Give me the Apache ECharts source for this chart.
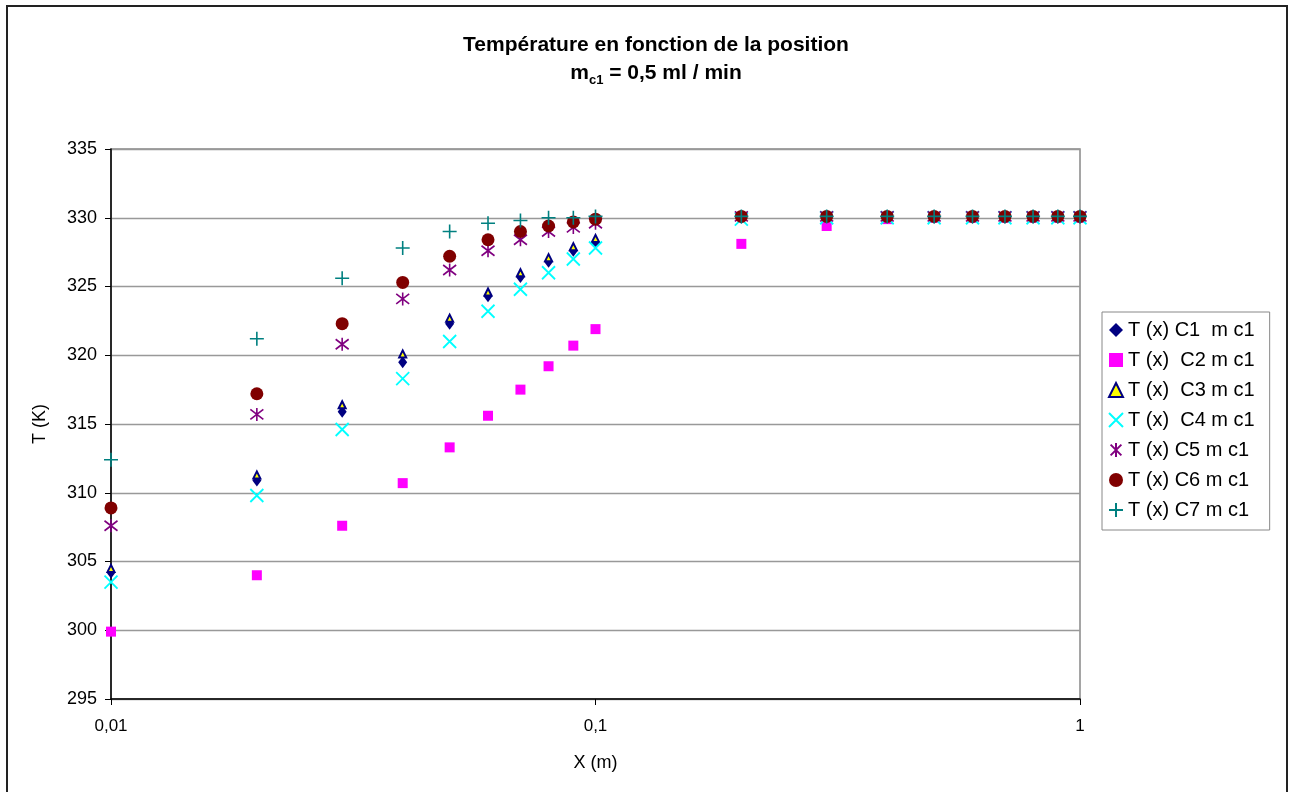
<!DOCTYPE html>
<html>
<head>
<meta charset="utf-8">
<script src="https://cdn.jsdelivr.net/npm/echarts@6/dist/echarts.min.js"></script>
<style>
  html, body { margin: 0; padding: 0; background: #fff; }
  #chart { width: 1292px; height: 792px; }
</style>
</head>
<body>
<div id="chart"></div>
<script>
// Positions along the tube (m)
const positions = [0.01, 0.02, 0.03, 0.04, 0.05, 0.06, 0.07, 0.08, 0.09, 0.1,
                   0.2, 0.3, 0.4, 0.5, 0.6, 0.7, 0.8, 0.9, 1];

// Temperatures (K) measured for each thermocouple
const tempC1 = [304.2, 310.9, 315.9, 319.5, 322.3, 324.3, 325.7, 326.8, 327.6, 328.2,
                330.0, 330.0, 330.0, 330.0, 330.0, 330.0, 330.0, 330.0, 330.0];
const tempC2 = [299.9, 304.0, 307.6, 310.7, 313.3, 315.6, 317.5, 319.2, 320.7, 321.9,
                328.1, 329.4, 329.9, 330.0, 330.0, 330.0, 330.0, 330.0, 330.0];
const tempC3 = [304.5, 311.3, 316.4, 320.1, 322.7, 324.6, 326.0, 327.1, 327.9, 328.5,
                330.1, 330.1, 330.1, 330.1, 330.1, 330.1, 330.1, 330.1, 330.1];
const tempC4 = [303.5, 309.8, 314.6, 318.3, 321.0, 323.2, 324.8, 326.0, 327.0, 327.8,
                329.9, 330.0, 330.0, 330.0, 330.0, 330.0, 330.0, 330.0, 330.0];
const tempC5 = [307.6, 315.7, 320.8, 324.1, 326.2, 327.6, 328.4, 329.0, 329.3, 329.6,
                330.1, 330.1, 330.1, 330.1, 330.1, 330.1, 330.1, 330.1, 330.1];
const tempC6 = [308.9, 317.2, 322.3, 325.3, 327.2, 328.4, 329.0, 329.4, 329.7, 329.9,
                330.1, 330.1, 330.1, 330.1, 330.1, 330.1, 330.1, 330.1, 330.1];
const tempC7 = [312.4, 321.2, 325.6, 327.8, 329.0, 329.6, 329.8, 330.0, 330.0, 330.1,
                330.1, 330.1, 330.1, 330.1, 330.1, 330.1, 330.1, 330.1, 330.1];

const seriesNames = ['T (x) C1  m c1', 'T (x)  C2 m c1', 'T (x)  C3 m c1', 'T (x)  C4 m c1',
                     'T (x) C5 m c1', 'T (x) C6 m c1', 'T (x) C7 m c1'];

const yTicks = { min: 295, max: 335, step: 5 };

// Marker shapes
const CROSS_X = 'path://M0 0L10 10M10 0L0 10';
const PLUS = 'path://M5 0L5 10M0 5L10 5';
const STAR = 'path://M0 0L10 10M10 0L0 10M5 -1.5L5 11.5';

function pairs(ys) { return positions.map((x, i) => [x, ys[i]]); }

const markerStyles = [
  { symbol: 'diamond', symbolSize: [9, 12], itemStyle: { color: '#000080', opacity: 1 } },
  { symbol: 'rect', symbolSize: 10, itemStyle: { color: '#FF00FF', opacity: 1 } },
  { symbol: 'triangle', symbolSize: [7, 7],
    itemStyle: { color: '#FFFF00', borderColor: '#000080', borderWidth: 2, opacity: 1 } },
  { symbol: CROSS_X, symbolSize: 13,
    itemStyle: { color: 'rgba(0,0,0,0)', borderColor: '#00FFFF', borderWidth: 1.8, opacity: 1 } },
  { symbol: STAR, symbolSize: 13,
    itemStyle: { color: 'rgba(0,0,0,0)', borderColor: '#800080', borderWidth: 1.6, opacity: 1 } },
  { symbol: 'circle', symbolSize: 13, itemStyle: { color: '#800000', opacity: 1 } },
  { symbol: PLUS, symbolSize: 14,
    itemStyle: { color: 'rgba(0,0,0,0)', borderColor: '#008080', borderWidth: 1.6, opacity: 1 } }
];

const allTemps = [tempC1, tempC2, tempC3, tempC4, tempC5, tempC6, tempC7];

const chart = echarts.init(document.getElementById('chart'), null, { renderer: 'canvas' });

const FONT = 'Liberation Sans, Arial, sans-serif';

chart.setOption({
  backgroundColor: '#ffffff',
  animation: false,
  graphic: [{
    type: 'rect',
    shape: { x: 7, y: 6, width: 1280, height: 800 },
    style: { fill: 'none', stroke: '#222', lineWidth: 2 },
    silent: true,
    z: -1
  }],
  title: {
    text: 'Température en fonction de la position\n{m|m}{sub|c1}{m| = 0,5 ml / min}',
    left: 651,
    textAlign: 'center',
    top: 26,
    textStyle: {
      fontFamily: FONT,
      fontSize: 21,
      fontWeight: 'bold',
      color: '#000',
      lineHeight: 28,
      rich: {
        m: { fontFamily: FONT, fontSize: 21, fontWeight: 'bold', color: '#000', lineHeight: 28 },
        sub: { fontFamily: FONT, fontSize: 13, fontWeight: 'bold', color: '#000',
               verticalAlign: 'bottom', lineHeight: 22, padding: [8, 0, 0, 0] }
      }
    }
  },
  grid: {
    left: 111, top: 149, right: 212, bottom: 93,
    show: true, borderColor: '#888', borderWidth: 1.5, backgroundColor: '#fff',
    containLabel: false
  },
  legend: {
    orient: 'vertical',
    left: 1102,
    top: 312,
    itemWidth: 14,
    itemHeight: 14,
    itemGap: 8,
    padding: [7, 15, 9, 6],
    borderColor: '#888',
    borderWidth: 1,
    backgroundColor: '#fff',
    textStyle: { fontFamily: FONT, fontSize: 20, color: '#000', lineHeight: 22 },
    data: seriesNames
  },
  xAxis: {
    type: 'log',
    logBase: 10,
    min: 0.01,
    max: 1,
    name: 'X (m)',
    nameLocation: 'middle',
    nameGap: 55,
    nameTextStyle: { fontFamily: FONT, fontSize: 18, color: '#000' },
    axisLine: { show: true, onZero: false, lineStyle: { color: '#000', width: 1.5 } },
    axisTick: { show: true, inside: false, length: 6, lineStyle: { color: '#000' } },
    minorTick: { show: false },
    splitLine: { show: false },
    axisLabel: {
      fontFamily: FONT, fontSize: 17, color: '#000', margin: 19,
      formatter: v => String(+v.toPrecision(6)).replace('.', ',')
    }
  },
  yAxis: {
    type: 'value',
    min: yTicks.min,
    max: yTicks.max,
    interval: yTicks.step,
    name: 'T (K)',
    nameLocation: 'middle',
    nameGap: 62,
    nameMoveOverlap: false,
    nameRotate: 90,
    nameTextStyle: { fontFamily: FONT, fontSize: 18, color: '#000' },
    axisLine: { show: true, onZero: false, lineStyle: { color: '#000', width: 1.5 } },
    axisTick: { show: true, inside: false, length: 6, lineStyle: { color: '#000' } },
    splitLine: { show: true, lineStyle: { color: '#999', width: 1.3 } },
    axisLabel: { fontFamily: FONT, fontSize: 18, color: '#000', margin: 14 }
  },
  series: allTemps.map((temps, i) => Object.assign({
    name: seriesNames[i],
    type: 'scatter',
    data: pairs(temps),
    z: 2 + i,
    emphasis: { disabled: true }
  }, markerStyles[i]))
});
</script>
</body>
</html>
